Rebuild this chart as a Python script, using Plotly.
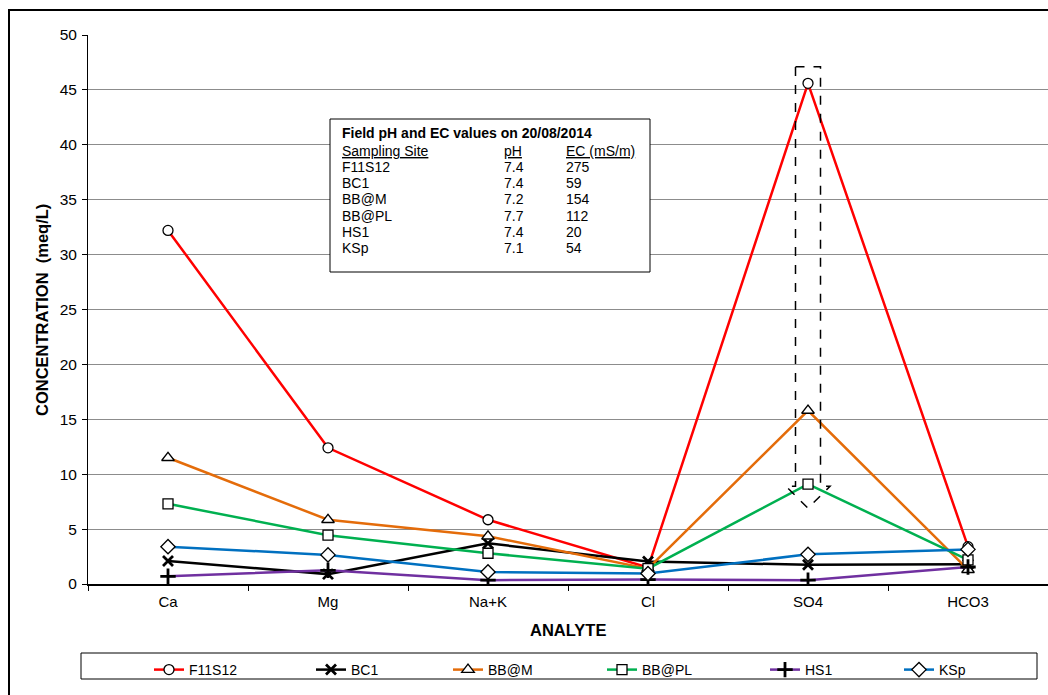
import plotly.graph_objects as go

# Analytes on the category axis
analytes = ["Ca", "Mg", "Na+K", "Cl", "SO4", "HCO3"]

# Concentrations (meq/L) per sampling site
f11s12 = [32.2, 12.4, 5.85, 1.5, 45.6, 3.4]
bc1 = [2.1, 0.9, 3.7, 2.05, 1.75, 1.8]
bb_m = [11.5, 5.85, 4.35, 1.4, 15.8, 1.3]
bb_pl = [7.3, 4.45, 2.8, 1.4, 9.1, 2.2]
hs1 = [0.7, 1.25, 0.35, 0.4, 0.35, 1.55]
ksp = [3.4, 2.65, 1.1, 0.95, 2.7, 3.15]

# Field measurements table
sites = ["F11S12", "BC1", "BB@M", "BB@PL", "HS1", "KSp"]
field_ph = ["7.4", "7.4", "7.2", "7.7", "7.4", "7.1"]
field_ec = ["275", "59", "154", "112", "20", "54"]

FONT = "Liberation Sans, Arial, sans-serif"
W, H = 1048, 695
L, R, T, B = 88, 0, 35, 111
PW, PH = W - L - R, H - T - B


def px(xp):
    return (xp - L) / PW


def py(yp):
    return (H - B - yp) / PH


series = [
    ("F11S12", f11s12, "#FF0000", "circle", "white", 10),
    ("BC1", bc1, "#000000", "x-thin", "black", 10),
    ("BB@M", bb_m, "#E46C0A", "triangle-up", "white", 11),
    ("BB@PL", bb_pl, "#00B050", "square", "white", 10),
    ("HS1", hs1, "#7030A0", "cross-thin", "black", 11),
    ("KSp", ksp, "#0070C0", "diamond", "white", 11),
]
# left edge of each legend entry
legend_x = [149, 311, 448, 602, 765, 899]

fig = go.Figure()
legends = {}
for i, (name, vals, color, sym, fill, size) in enumerate(series):
    thin = sym.endswith("-thin")
    lg = "legend" if i == 0 else f"legend{i + 1}"
    fig.add_trace(go.Scatter(
        x=analytes, y=vals, name=name, mode="lines+markers",
        line=dict(color=color, width=2.5),
        marker=dict(symbol=sym, size=size, color=fill,
                    line=dict(color="black", width=2.8 if thin else 1.3)),
        legend=lg,
    ))
    legends[lg] = dict(x=px(legend_x[i]), y=py(654), xanchor="left", yanchor="top",
                       orientation="h", bgcolor="rgba(0,0,0,0)", borderwidth=0,
                       itemwidth=30,
                       font=dict(family=FONT, size=14, color="black"))

shapes = []
# outer chart frame
shapes.append(dict(type="rect", xref="paper", yref="paper",
                   x0=px(9), x1=px(1100), y0=py(760), y1=py(10),
                   line=dict(color="black", width=2), layer="below"))
# legend frame
shapes.append(dict(type="rect", xref="paper", yref="paper",
                   x0=px(81), x1=px(1037), y0=py(679), y1=py(653),
                   line=dict(color="black", width=1), fillcolor="white",
                   layer="below"))
# field values box
shapes.append(dict(type="rect", xref="paper", yref="paper",
                   x0=px(330), x1=px(650), y0=py(272), y1=py(119),
                   line=dict(color="black", width=1), fillcolor="white",
                   layer="above"))
# dashed down arrow over SO4
cx = 4.5 / 6
hw, ww = 12.5 / PW, 22.0 / PW
top, neck, tip = 47.1, 8.9, 6.9
path = (f"M {cx-hw},{top} L {cx+hw},{top} L {cx+hw},{neck} L {cx+ww},{neck} "
        f"L {cx},{tip} L {cx-ww},{neck} L {cx-hw},{neck} Z")
shapes.append(dict(type="path", xref="paper", yref="y", path=path,
                   line=dict(color="black", width=1.5, dash="dash"),
                   layer="above"))

ann = []
tf = dict(family=FONT, size=14, color="black")
ann.append(dict(text="<b>Field pH and EC values on 20/08/2014</b>", x=px(340), y=py(133),
                xref="paper", yref="paper", xanchor="left", yanchor="middle",
                showarrow=False, font=tf))
hdr_y = py(151)
for txt, xx in [("<u>Sampling Site</u>", 340), ("<u>pH</u>", 502), ("<u>EC (mS/m)</u>", 564)]:
    ann.append(dict(text=txt, x=px(xx), y=hdr_y, xref="paper", yref="paper",
                    xanchor="left", yanchor="middle", showarrow=False, font=tf))
for i, (s, p, e) in enumerate(zip(sites, field_ph, field_ec)):
    yy = py(167 + i * 16.2)
    for txt, xx in [(s, 340), (p, 502), (e, 564)]:
        ann.append(dict(text=txt, x=px(xx), y=yy, xref="paper", yref="paper",
                        xanchor="left", yanchor="middle", showarrow=False, font=tf))

ann.append(dict(text="<b>CONCENTRATION\u00a0\u00a0(meq/L)</b>", textangle=-90,
                x=px(42), y=py(310), xref="paper", yref="paper",
                xanchor="center", yanchor="middle", showarrow=False,
                font=dict(family=FONT, size=16.5, color="black")))
ann.append(dict(text="<b>ANALYTE</b>", x=px(568), y=py(630), xref="paper", yref="paper",
                xanchor="center", yanchor="middle", showarrow=False,
                font=dict(family=FONT, size=16.5, color="black")))

fig.update_layout(
    width=W, height=H,
    margin=dict(l=L, r=R, t=T, b=B, autoexpand=False),
    paper_bgcolor="white", plot_bgcolor="white",
    font=dict(family=FONT, size=15, color="black"),
    showlegend=True,
    xaxis=dict(type="category", range=[-0.5, 5.5], tickson="boundaries",
               ticks="outside", ticklen=5, tickcolor="black",
               showline=True, linecolor="black", linewidth=2,
               showgrid=False, zeroline=False, ticklabelstandoff=3,
               tickfont=dict(family=FONT, size=15, color="black")),
    yaxis=dict(range=[0, 50], dtick=5, tick0=0,
               ticks="outside", ticklen=5, tickcolor="black",
               showline=True, linecolor="black", linewidth=1,
               showgrid=True, gridcolor="#8C8C8C", gridwidth=1,
               zeroline=False, ticklabelstandoff=2,
               tickfont=dict(family=FONT, size=15.5, color="black")),
    shapes=shapes, annotations=ann,
    **legends,
)

fig.write_html("out.html")
